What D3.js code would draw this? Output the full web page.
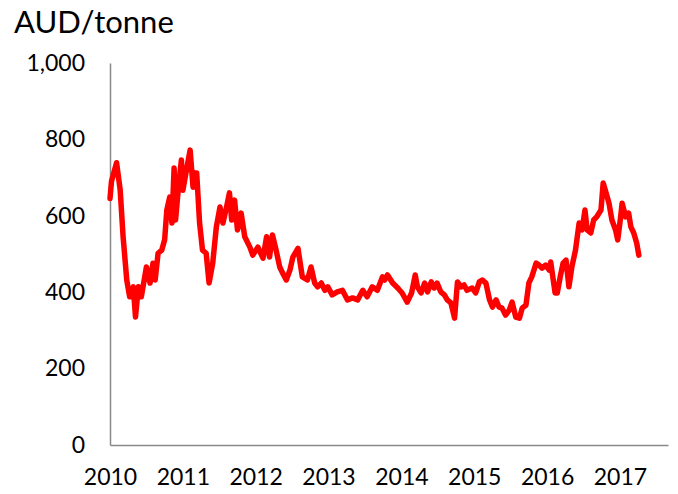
<!DOCTYPE html>
<html>
<head>
<meta charset="utf-8">
<script src="https://cdn.jsdelivr.net/npm/d3@7"></script>
<style>
  body { margin: 0; background: #fff; }
  svg text { font-family: Lato, "Open Sans", sans-serif; fill: #000; }
</style>
</head>
<body>
<div id="chart"></div>
<script>
// time in decimal years, price in AUD/tonne
var years = [
  2010.00, 2010.02, 2010.09, 2010.14, 2010.18, 2010.23, 2010.27, 2010.32, 2010.35, 2010.39,
  2010.43, 2010.50, 2010.55, 2010.59, 2010.62, 2010.66, 2010.71, 2010.75, 2010.78, 2010.82,
  2010.85, 2010.88, 2010.90, 2010.94, 2010.98, 2011.00, 2011.05, 2011.10, 2011.14, 2011.16,
  2011.19, 2011.23, 2011.27, 2011.32, 2011.36, 2011.41, 2011.46, 2011.51, 2011.55, 2011.60,
  2011.64, 2011.67, 2011.71, 2011.75, 2011.80, 2011.85, 2011.92, 2011.96, 2012.03, 2012.10,
  2012.15, 2012.19, 2012.23, 2012.28, 2012.33, 2012.37, 2012.42, 2012.47, 2012.51, 2012.58,
  2012.64, 2012.71, 2012.76, 2012.81, 2012.85, 2012.90, 2012.95, 2012.99, 2013.05, 2013.12,
  2013.19, 2013.26, 2013.33, 2013.40, 2013.47, 2013.53, 2013.60, 2013.67, 2013.74, 2013.77,
  2013.81, 2013.88, 2013.95, 2014.01, 2014.08, 2014.14, 2014.19, 2014.22, 2014.27, 2014.32,
  2014.36, 2014.41, 2014.45, 2014.49, 2014.54, 2014.59, 2014.63, 2014.68, 2014.73, 2014.77,
  2014.82, 2014.86, 2014.90, 2014.97, 2015.02, 2015.07, 2015.11, 2015.16, 2015.21, 2015.25,
  2015.30, 2015.34, 2015.38, 2015.43, 2015.48, 2015.52, 2015.57, 2015.62, 2015.66, 2015.71,
  2015.75, 2015.79, 2015.85, 2015.89, 2015.93, 2015.98, 2016.03, 2016.05, 2016.11, 2016.14,
  2016.18, 2016.22, 2016.26, 2016.30, 2016.34, 2016.39, 2016.44, 2016.48, 2016.52, 2016.55,
  2016.60, 2016.64, 2016.68, 2016.74, 2016.77, 2016.80, 2016.85, 2016.89, 2016.94, 2016.97,
  2017.01, 2017.03, 2017.08, 2017.12, 2017.15, 2017.19, 2017.23, 2017.26
];
var prices = [
  645, 690, 739, 667, 545, 432, 388, 414, 335, 414,
  388, 466, 424, 476, 432, 502, 510, 537, 615, 649,
  581, 725, 589, 675, 746, 667, 720, 772, 675, 712,
  712, 581, 510, 502, 424, 476, 571, 623, 581, 623,
  660, 589, 641, 563, 607, 545, 518, 497, 518, 489,
  545, 492, 550, 510, 466, 450, 432, 458, 492, 515,
  440, 432, 466, 424, 414, 424, 405, 414, 393, 401,
  405, 380, 385, 380, 405, 388, 414, 405, 440, 432,
  445, 424, 411, 398, 374, 398, 445, 414, 398, 424,
  401, 427, 411, 424, 401, 393, 380, 372, 332, 427,
  414, 419, 405, 411, 398, 427, 432, 424, 380, 361,
  380, 361, 359, 340, 353, 374, 335, 332, 359, 366,
  424, 440, 476, 471, 463, 471, 458, 479, 398, 398,
  440, 476, 484, 414, 466, 510, 581, 563, 615, 563,
  555, 589, 597, 615, 686, 667, 633, 589, 563, 537,
  597, 633, 597, 607, 571, 555, 529, 497
];
var yearTicks = [2010, 2011, 2012, 2013, 2014, 2015, 2016, 2017];
var priceTicks = [0, 200, 400, 600, 800, 1000];

var width = 678, height = 494;

var svg = d3.select("#chart").append("svg")
  .attr("width", width)
  .attr("height", height);

var x = d3.scaleLinear().domain([2010, 2017.66]).range([110, 668]);
var y = d3.scaleLinear().domain([0, 1000]).range([445, 63]);

// y axis
var yAxis = svg.append("g")
  .attr("transform", "translate(110,0)")
  .call(d3.axisLeft(y).tickValues(priceTicks).tickSize(0).tickSizeOuter(0)
    .tickPadding(25).tickFormat(d3.format(",")));
yAxis.select(".domain").attr("stroke", "#898989").attr("stroke-width", 1.5);
yAxis.selectAll("text").attr("font-size", 23).attr("font-family", "Lato, sans-serif");

// x axis
var xAxis = svg.append("g")
  .attr("transform", "translate(0,445)")
  .call(d3.axisBottom(x).tickValues(yearTicks).tickSize(0).tickSizeOuter(0)
    .tickPadding(24).tickFormat(function(d) { return d; }));
xAxis.select(".domain").attr("stroke", "#898989").attr("stroke-width", 1.5);
xAxis.selectAll("text").attr("font-size", 23).attr("font-family", "Lato, sans-serif");

// unit label
svg.append("text")
  .attr("x", 14)
  .attr("y", 33)
  .attr("font-size", 31)
  .text("AUD/tonne");

var line = d3.line()
  .x(function(d, i) { return x(years[i]); })
  .y(function(d) { return y(d); });

svg.append("path")
  .datum(prices)
  .attr("fill", "none")
  .attr("stroke", "#ff0000")
  .attr("stroke-width", 5.5)
  .attr("stroke-linejoin", "round")
  .attr("stroke-linecap", "round")
  .attr("d", line);
</script>
</body>
</html>
